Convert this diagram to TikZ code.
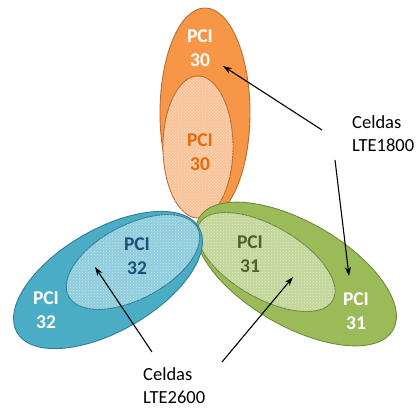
\documentclass[tikz,border=0pt]{standalone}
\usepackage{fontspec}
\setmainfont{Carlito}
\usetikzlibrary{arrows.meta,patterns}

\definecolor{orgFill}{HTML}{F79646}
\definecolor{orgLine}{HTML}{B66D31}
\definecolor{orgIn}{HTML}{F9C39A}
\definecolor{orgText}{HTML}{E46C0A}
\definecolor{bluFill}{HTML}{4BACC6}
\definecolor{bluLine}{HTML}{357D91}
\definecolor{bluIn}{HTML}{8FCDDD}
\definecolor{bluText}{HTML}{1F4E79}
\definecolor{grnFill}{HTML}{9BBB59}
\definecolor{grnLine}{HTML}{71893F}
\definecolor{grnIn}{HTML}{C3D69B}
\definecolor{grnText}{HTML}{4F6228}

\tikzset{
  outercell/.style={line width=0.9pt},
  innercell/.style={line width=0.9pt},
  texture/.style={pattern=crosshatch dots, pattern color=white, opacity=0.45},
  pci/.style={align=center, font=\bfseries\fontsize{19.5}{24}\selectfont, inner sep=0pt},
  note/.style={align=left, anchor=west, font=\fontsize{18.5}{23}\selectfont, inner sep=0pt},
  pointer/.style={-{Stealth[length=9pt,width=6pt]}, line width=1.1pt, black},
}

\begin{document}
\begin{tikzpicture}[x=1pt,y=-1pt]
\useasboundingbox (0,0) rectangle (417,409);

% orange sector (top): outer LTE1800 cell, inner LTE2600 cell
\draw[outercell, draw=orgLine, fill=orgFill] (205,113) ellipse [x radius=45pt, y radius=105pt];
\draw[innercell, draw=orgLine, fill=orgIn] (198,147) ellipse [x radius=35pt, y radius=71pt];
\fill[texture] (198,147) ellipse [x radius=35pt, y radius=71pt];

% green sector (right)
\begin{scope}[rotate around={-30:(296,274)}]
  \draw[outercell, draw=grnLine, fill=grnFill] (296,274) ellipse [x radius=112pt, y radius=52pt];
\end{scope}
\begin{scope}[rotate around={-30:(266,262)}]
  \draw[innercell, draw=grnLine, fill=grnIn] (266,262) ellipse [x radius=77pt, y radius=36pt];
  \fill[texture] (266,262) ellipse [x radius=77pt, y radius=36pt];
\end{scope}

% blue sector (left)
\begin{scope}[rotate around={30:(108,280)}]
  \draw[outercell, draw=bluLine, fill=bluFill] (108,280) ellipse [x radius=105pt, y radius=51pt];
\end{scope}
\begin{scope}[rotate around={28:(133,262)}]
  \draw[innercell, draw=bluLine, fill=bluIn] (133,262) ellipse [x radius=73pt, y radius=37pt];
  \fill[texture] (133,262) ellipse [x radius=73pt, y radius=37pt];
\end{scope}

% cell identifiers
\node[pci, white]     (o1800) at (200,48)  {PCI\\30};
\node[pci, orgText]   (o2600) at (200,152) {PCI\\30};
\node[pci, bluText]   (b2600) at (137,256) {PCI\\32};
\node[pci, white]     (b1800) at (46,310)  {PCI\\32};
\node[pci, grnText]   (g2600) at (250,254) {PCI\\31};
\node[pci, white]     (g1800) at (356,311) {PCI\\31};

% captions
\node[note] (cap1800) at (352,134) {Celdas\\LTE1800};
\node[note] (cap2600) at (143,386) {Celdas\\LTE2600};

% pointer ends
\coordinate (t1) at (322,130);
\coordinate (h1) at (223,66);
\coordinate (t2) at (335,160);
\coordinate (h2) at (349,276);
\coordinate (t3) at (152,352);
\coordinate (h3) at (95,267);
\coordinate (t4) at (222,362);
\coordinate (h4) at (293,277);

\draw[pointer] (t1) -- (h1);
\draw[pointer] (t2) -- (h2);
\draw[pointer] (t3) -- (h3);
\draw[pointer] (t4) -- (h4);
\end{tikzpicture}
\end{document}
